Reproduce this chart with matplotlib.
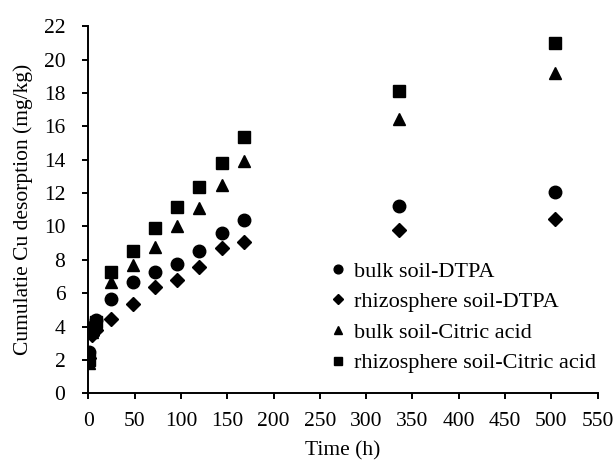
import matplotlib
matplotlib.use('Agg')
import matplotlib.pyplot as plt

plt.rcParams['font.family'] = 'Liberation Serif'
plt.rcParams['font.size'] = 16

time_h = [1, 4, 8, 24, 48, 72, 96, 120, 144, 168, 336, 504]
bulk_dtpa = [2.5, 4.0, 4.4, 5.65, 6.7, 7.3, 7.75, 8.55, 9.6, 10.4, 11.2, 12.05]
rhizo_dtpa = [2.1, 3.5, 3.8, 4.45, 5.35, 6.35, 6.8, 7.55, 8.7, 9.05, 9.8, 10.45]
bulk_citric = [1.8, 3.7, 4.1, 6.65, 7.7, 8.75, 10.0, 11.1, 12.5, 13.95, 16.45, 19.2]
rhizo_citric = [2.0, 3.8, 4.3, 7.3, 8.55, 9.9, 11.15, 12.35, 13.8, 15.35, 18.1, 21.0]

fig = plt.figure(figsize=(6.16, 4.62), dpi=100)
ax = fig.add_axes([0.1433, 0.1487, 0.827, 0.7943])

ax.plot(time_h, bulk_dtpa, 'o', color='black', ms=9, label='bulk soil-DTPA')
ax.plot(time_h, rhizo_dtpa, 'D', color='black', ms=7.5, label='rhizosphere soil-DTPA')
ax.plot(time_h, bulk_citric, '^', color='black', ms=9, label='bulk soil-Citric acid')
ax.plot(time_h, rhizo_citric, 's', color='black', ms=8.5, label='rhizosphere soil-Citric acid')

ax.set_xlim(0, 550)
ax.set_ylim(0, 22)
ax.set_xticks(range(0, 551, 50))
ax.set_yticks(range(0, 23, 2))
ax.spines['top'].set_visible(False)
ax.spines['right'].set_visible(False)
for s in ['left', 'bottom']:
    ax.spines[s].set_linewidth(1.4)
ax.tick_params(width=1.4, length=4.5, labelsize=15.5)
ax.tick_params(axis='y', pad=12)
ax.tick_params(axis='x', pad=9)

ax.set_xlabel('Time (h)', fontsize=15.5, labelpad=7)
ax.set_ylabel('Cumulatie Cu desorption (mg/kg)', fontsize=15.5, labelpad=8)

ax.legend(loc='lower right', bbox_to_anchor=(1.035, 0.0), frameon=False,
          markerscale=0.7, handletextpad=0.1, handlelength=1.2,
          labelspacing=0.45, fontsize=16)

fig.savefig('out.png', dpi=100)
